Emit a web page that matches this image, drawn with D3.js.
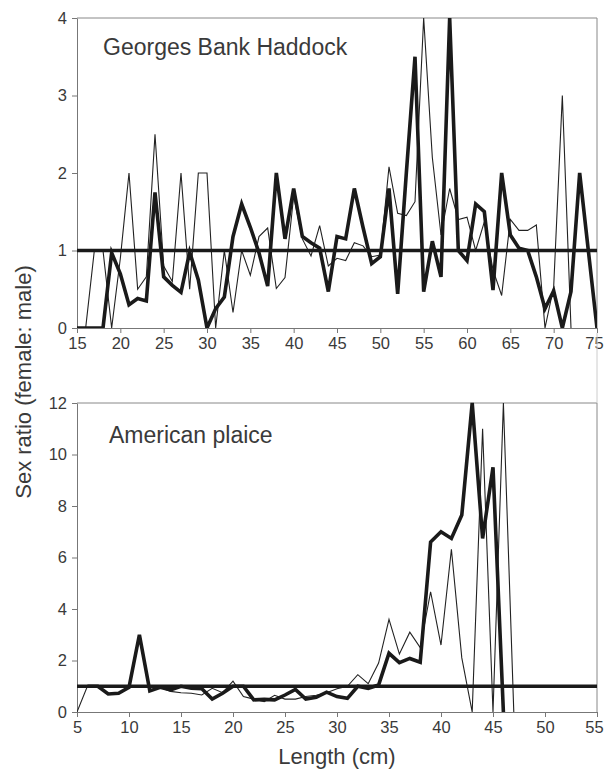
<!DOCTYPE html>
<html>
<head>
<meta charset="utf-8">
<script src="https://cdn.jsdelivr.net/npm/d3@7"></script>
<style>
	body { margin: 0; background: #fff; }
	svg { display: block; }
	.tick text { font-family: "Liberation Sans", Arial, sans-serif; font-size: 16.5px; fill: #3a3a3a; }
	.axis path, .axis line { stroke: #777; }
	.label { font-family: "Liberation Sans", Arial, sans-serif; fill: #3a3a3a; }
</style>
</head>
<body>
<script>
// Georges Bank haddock, length 15-75 cm
var hadLenThick = [15,16,17,18,19,20,21,22,23,24,25,26,27,28,29,30,31,32,33,34,35,36,37,38,39,40,41,42,43,44,45,
	46,47,48,49,50,51,52,53,54,55,56,57,58,59,60,61,62,63,64,65,66,67,68,69,70,71,72,73,74,75];
var hadThick = [0,0,0,0,0.97,0.7,0.3,0.38,0.35,1.75,0.66,0.55,0.46,0.98,0.62,0,0.25,0.4,1.18,1.6,1.3,
	0.97,0.54,2.0,1.15,1.8,1.18,1.1,1.03,0.47,1.18,1.15,1.8,1.3,0.83,0.92,1.8,0.44,2.0,3.5,0.47,
	1.12,0.66,4.0,1.0,0.87,1.6,1.5,0.49,2.0,1.2,1.03,1.0,0.66,0.25,0.48,0,0.47,2.0,1.0,0];
var hadLenThin = [15,16,17,18,19,20,21,22,23,24,25,26,27,28,29,30,31,32,33,34,35,36,37,38,39,40,41,42,43,
	44,45,46,47,48,49,50,51,52,53,54,55,56,57,58,59,60,61,62,63,64,65,66,67,68,69,70,71,72];
var hadThin = [0,0,1,1,0,0.9,2,0.5,0.66,2.5,0.8,0.6,2,0.5,2,2,0,1.0,0.2,1.0,0.68,1.18,1.29,0.51,0.65,
	1.7,1.15,0.93,1.32,0.8,0.9,0.87,1.1,1.06,0.92,0.94,2.08,1.48,1.45,1.63,4,2.2,1.2,1.8,1.4,1.43,
	1.0,1.37,0.75,0.42,1.4,1.26,1.26,1.33,0,0.53,3.0,0];

// American plaice, length 5-47 cm
var plaLenThick = [6,7,8,9,10,11,12,13,14,15,16,17,18,19,20,21,22,23,24,25,26,27,28,29,30,31,32,33,34,35,
	36,37,38,39,40,41,42,43,44,45,46];
var plaThick = [1.0,1.0,0.7,0.73,0.96,3.0,0.82,0.96,0.86,1.0,0.92,0.9,0.5,0.73,1.0,1.0,0.47,0.49,0.47,
	0.66,0.88,0.5,0.57,0.77,0.6,0.53,1.0,0.92,1.05,2.28,1.92,2.08,1.93,6.6,7.0,6.74,7.65,12,6.74,9.5,0];
var plaLenThin = [5,6,7,8,9,10,11,12,13,14,15,16,17,18,19,20,21,22,23,24,25,26,27,28,29,30,31,32,33,34,
	35,36,37,38,39,40,41,42,43,44,45,46,47];
var plaThin = [0,1.0,1.0,0.95,0.95,1.0,1.0,1.0,0.95,0.8,0.75,0.73,0.66,0.92,0.75,1.2,0.6,0.5,0.4,0.65,
	0.5,0.5,0.6,0.65,0.75,0.9,1.0,1.45,1.1,1.9,3.6,2.25,3.1,2.5,4.67,2.6,6.32,2.1,0,11.0,0,12,0];

var hadXTicks = [15,20,25,30,35,40,45,50,55,60,65,70,75];
var hadYTicks = [0,1,2,3,4];
var plaXTicks = [5,10,15,20,25,30,35,40,45,50,55];
var plaYTicks = [0,2,4,6,8,10,12];
var evenRatio = 1;

var width = 605, height = 772;
var svg = d3.select("body").append("svg")
	.attr("width", width)
	.attr("height", height);

var left = 77, right = 597;

function drawPanel(id, top, bottom, xDomain, yDomain, xTicks, yTicks, title, titleX, titleY, lenThick, thick, lenThin, thin) {
	var x = d3.scaleLinear().domain(xDomain).range([left, right]);
	var y = d3.scaleLinear().domain(yDomain).range([bottom, top]);

	var g = svg.append("g");

	g.append("clipPath").attr("id", id)
		.append("rect")
		.attr("x", left).attr("y", top - 1)
		.attr("width", right - left).attr("height", bottom - top + 1);

	// frame top and right
	g.append("line").attr("x1", left).attr("x2", right).attr("y1", top).attr("y2", top)
		.attr("stroke", "#888").attr("stroke-width", 1);
	g.append("line").attr("x1", right).attr("x2", right).attr("y1", top).attr("y2", bottom)
		.attr("stroke", "#888").attr("stroke-width", 1);

	var xAxis = g.append("g")
		.attr("class", "axis")
		.attr("transform", "translate(0," + bottom + ")")
		.call(d3.axisBottom(x).tickValues(xTicks).tickFormat(d3.format("d"))
			.tickSize(5).tickSizeOuter(0).tickPadding(4));
	// last label sits against the page edge
	xAxis.selectAll(".tick text")
		.filter(function (d) { return d == xDomain[1]; })
		.attr("dx", -3);

	g.append("g")
		.attr("class", "axis")
		.attr("transform", "translate(" + left + ",0)")
		.call(d3.axisLeft(y).tickValues(yTicks).tickFormat(d3.format("d"))
			.tickSize(5).tickSizeOuter(0).tickPadding(5));

	var plot = g.append("g").attr("clip-path", "url(#" + id + ")");

	var line = d3.line()
		.x(function (d) { return x(d[0]); })
		.y(function (d) { return y(d[1]); });

	plot.append("path")
		.datum(d3.zip(lenThin, thin))
		.attr("d", line)
		.attr("fill", "none")
		.attr("stroke", "#222")
		.attr("stroke-width", 1.1)
		.attr("stroke-linejoin", "miter");

	plot.append("path")
		.datum(d3.zip(lenThick, thick))
		.attr("d", line)
		.attr("fill", "none")
		.attr("stroke", "#1a1a1a")
		.attr("stroke-width", 3.6)
		.attr("stroke-linejoin", "miter");

	// 1:1 line
	plot.append("line")
		.attr("x1", left).attr("x2", right)
		.attr("y1", y(evenRatio)).attr("y2", y(evenRatio))
		.attr("stroke", "#1a1a1a")
		.attr("stroke-width", 3.4);

	g.append("text")
		.attr("class", "label")
		.attr("x", titleX)
		.attr("y", titleY)
		.attr("font-size", "23px")
		.text(title);
}

drawPanel("clipTop", 18, 328, [15, 75], [0, 4], hadXTicks, hadYTicks,
	"Georges Bank Haddock", 103, 55, hadLenThick, hadThick, hadLenThin, hadThin);
drawPanel("clipBottom", 403, 712, [5, 55], [0, 12], plaXTicks, plaYTicks,
	"American plaice", 109, 443, plaLenThick, plaThick, plaLenThin, plaThin);

// faint edge between the panels
svg.append("line").attr("x1", right).attr("x2", right).attr("y1", 333).attr("y2", 403)
	.attr("stroke", "#ccc").attr("stroke-width", 1);

svg.append("text")
	.attr("class", "label")
	.attr("transform", "translate(31,382) rotate(-90)")
	.attr("text-anchor", "middle")
	.attr("font-size", "22px")
	.text("Sex ratio (female: male)");

svg.append("text")
	.attr("class", "label")
	.attr("x", (left + right) / 2)
	.attr("y", 764)
	.attr("text-anchor", "middle")
	.attr("font-size", "22px")
	.text("Length (cm)");
</script>
</body>
</html>
